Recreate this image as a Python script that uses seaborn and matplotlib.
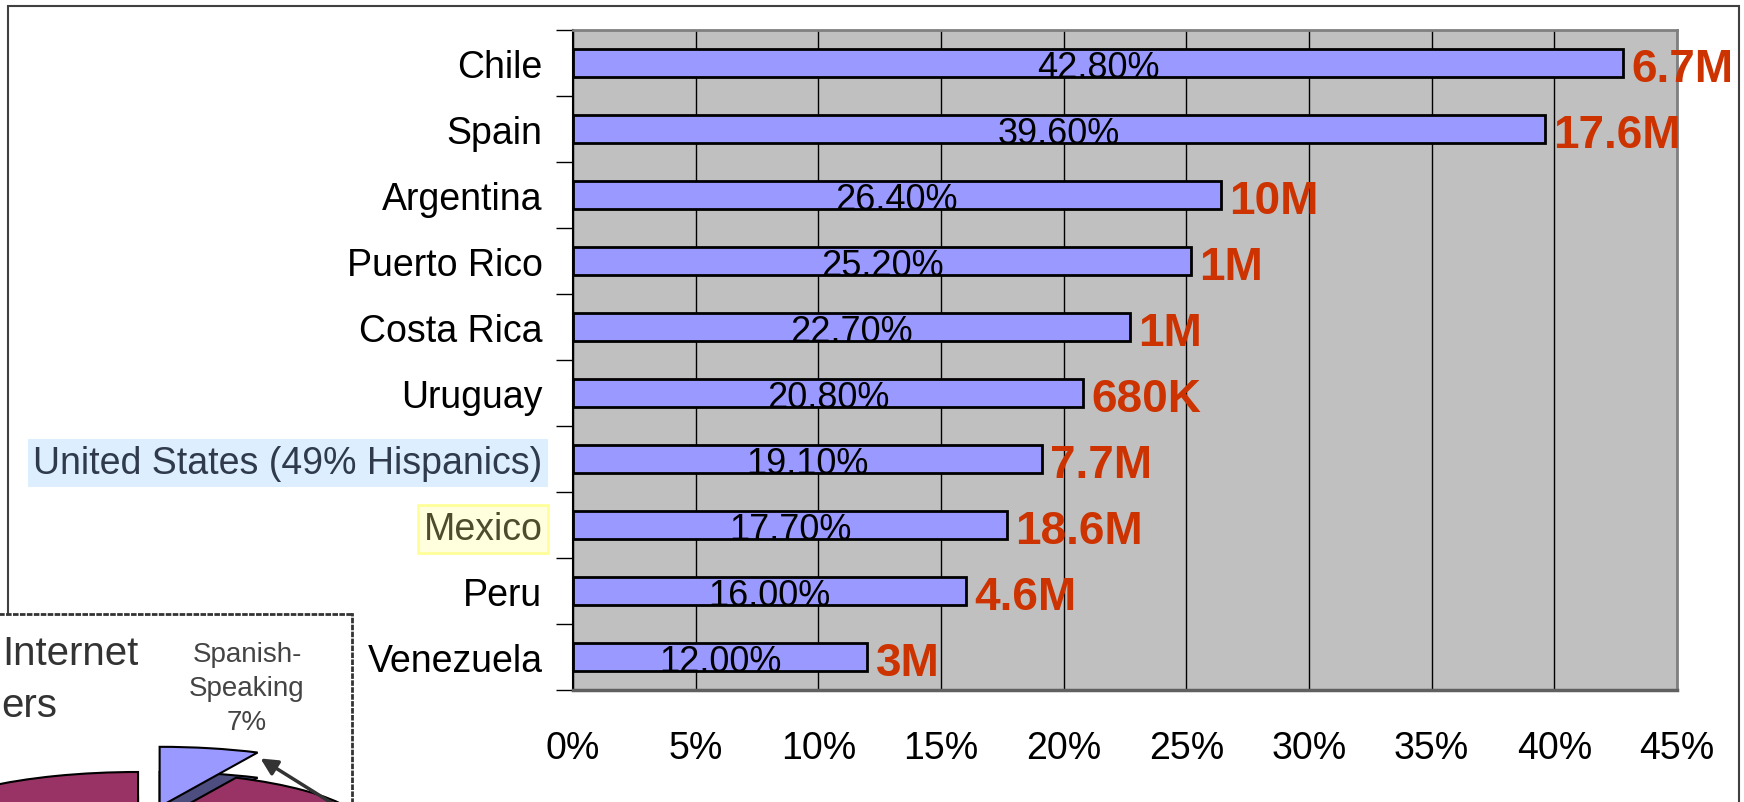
import matplotlib
matplotlib.use('Agg')
import matplotlib.pyplot as plt
import matplotlib.patches as mpatches
import numpy as np
import pandas as pd
import seaborn as sns

# Internet penetration among Spanish-speaking countries
countries = ['Chile', 'Spain', 'Argentina', 'Puerto Rico', 'Costa Rica', 'Uruguay',
             'United States (49% Hispanics)', 'Mexico', 'Peru', 'Venezuela']
penetration = [42.8, 39.6, 26.4, 25.2, 22.7, 20.8, 19.1, 17.7, 16.0, 12.0]
users = ['6.7M', '17.6M', '10M', '1M', '1M', '680K', '7.7M', '18.6M', '4.6M', '3M']
x_ticks = [0, 5, 10, 15, 20, 25, 30, 35, 40, 45]

# fragment of the pie chart in the corner
pie_share = [7, 93]
pie_note = 'Spanish-\nSpeaking\n7%'

W, H = 1744, 803
def fx(px):
    return px / W
def fy(py):
    return 1 - py / H

sns.set_style('white')
plt.rcParams['font.family'] = ['Liberation Sans', 'DejaVu Sans']

fig = plt.figure(figsize=(W / 100, H / 100), dpi=100)

# outer chart frame
fig.patches.append(mpatches.Rectangle((fx(8), -0.05), fx(1739) - fx(8), fy(7) + 0.05,
                                      transform=fig.transFigure, fill=False,
                                      edgecolor='#404040', linewidth=1.5, zorder=-1))

ax = fig.add_axes([fx(573), fy(691), fx(1677) - fx(573), fy(31) - fy(691)])
df = pd.DataFrame({'country': countries, 'pct': penetration})
sns.barplot(data=df, x='pct', y='country', orient='h', color='#9999FF', saturation=1,
            edgecolor='black', linewidth=2, width=0.42, ax=ax)

ax.set_facecolor('#C0C0C0')
ax.set_xlim(0, 45)
ax.set_ylim(9.5, -0.5)
ax.set_axisbelow(True)
ax.xaxis.grid(True, color='black', linewidth=1)
ax.set_xlabel('')
ax.set_ylabel('')
ax.set_xticks(x_ticks)
ax.set_xticklabels([f'{t}%' for t in x_ticks], fontsize=27)
ax.tick_params(axis='x', length=12, width=1, color='#404040', pad=17, direction='out',
               labelcolor='black')
ax.set_yticks(np.arange(-0.5, 10, 1), minor=True)
ax.tick_params(axis='y', which='minor', length=12, width=1, color='black', left=True)
ax.tick_params(axis='y', which='major', length=0, pad=22, labelsize=27, labelcolor='black')

for side in ['top', 'right']:
    ax.spines[side].set_color('#808080')
    ax.spines[side].set_linewidth(2)
ax.spines['bottom'].set_color('#606060')
ax.spines['bottom'].set_linewidth(2.5)
ax.spines['left'].set_color('black')
ax.spines['left'].set_linewidth(1.5)

for lab in ax.get_yticklabels():
    txt = lab.get_text()
    if txt.startswith('United'):
        lab.set_color('#2F3B4D')
        lab.set_bbox(dict(boxstyle='square,pad=0.15', facecolor='#DDEEFF', edgecolor='none'))
    elif txt == 'Mexico':
        lab.set_color('#4D4D2E')
        lab.set_bbox(dict(boxstyle='square,pad=0.15', facecolor='#FFFFDD',
                          edgecolor='#FFFF99', linewidth=2))

for i, (v, u) in enumerate(zip(penetration, users)):
    ax.text(v / 2, i + 0.21, f'{v:.2f}%', ha='center', va='baseline', fontsize=26, color='black')
    ax.annotate(u, xy=(v, i + 0.27), xytext=(6, 0), textcoords='offset points', ha='left',
                va='baseline', fontsize=33, fontweight='bold', color='#CC3300',
                annotation_clip=False)

# inset with the partial 3D pie
ax_in = fig.add_axes([0, 0, fx(352), fy(615)])
ax_in.set_zorder(5)
ax_in.set_facecolor('white')
wp = dict(edgecolor='black', linewidth=1.5)
side_w = ax_in.pie(pie_share, colors=['#4D4D80', '#4D1A33'], startangle=90, counterclock=False,
                   explode=[0.43, 0], center=(0, -0.42), frame=True, wedgeprops=wp)[0]
top_w = ax_in.pie(pie_share, colors=['#9999FF', '#993366'], startangle=90, counterclock=False,
                  explode=[0.43, 0], center=(0, 0), frame=True, wedgeprops=wp)[0]
side_w[0].set_zorder(1)
top_w[0].set_zorder(2)
side_w[1].set_zorder(3)
top_w[1].set_zorder(4)
ax_in.set_aspect('auto')
ax_in.set_xlim(-0.6, 0.93)
ax_in.set_ylim(0.5, 3.633)
ax_in.set_xticks([])
ax_in.set_yticks([])
ax_in.spines['left'].set_visible(False)
ax_in.spines['bottom'].set_visible(False)
for side in ['top', 'right']:
    ax_in.spines[side].set_linestyle((0, (1, 1.5)))
    ax_in.spines[side].set_color('#333333')
    ax_in.spines[side].set_linewidth(2)

ax_in.annotate('', xy=(0.522, 1.25), xytext=(0.96, 0.2),
               arrowprops=dict(arrowstyle='-|>', color='#333333', lw=2.5, mutation_scale=25),
               annotation_clip=False, zorder=6)

fig.text(fx(2), fy(665), 'Internet', ha='left', va='baseline', fontsize=29,
         color='#333333', zorder=10)
fig.text(fx(1), fy(717), 'ers', ha='left', va='baseline', fontsize=29,
         color='#333333', zorder=10)
fig.text(fx(247), fy(689), pie_note, ha='center', va='center', fontsize=20,
         color='#444444', linespacing=1.4, zorder=10)

fig.savefig('out.png', dpi=100)
